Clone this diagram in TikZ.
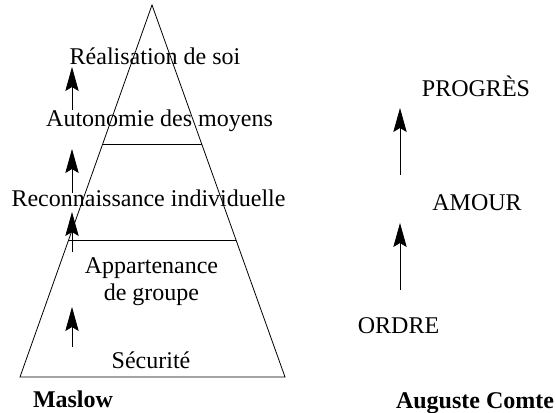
\documentclass[tikz,border=0pt]{standalone}
\usepackage{fontspec}
\setmainfont{Liberation Serif}
\usetikzlibrary{arrows.meta,calc}

\begin{document}
\begin{tikzpicture}
	[ x=0.75pt, y=-0.75pt,
		need/.style={inner sep=0pt,font=\fontsize{18}{20.5}\selectfont,anchor=base},
		thinker/.style={need,font=\fontsize{18}{20.5}\selectfont\bfseries},
		arrowUp/.style={-{Stealth[length=18pt,width=10pt,inset=3pt]},line width=0.6pt}]

	\useasboundingbox (0,0) rectangle (556,413);

	% pyramide de Maslow
	\coordinate (apex) at (152,5);
	\coordinate (baseLeft) at (20,377);
	\coordinate (baseRight) at (285,377);
	\draw[line width=0.6pt] (apex) -- (baseRight) -- (baseLeft) -- cycle;
	\draw[line width=0.6pt] ($(apex)!0.374!(baseLeft)$) -- ($(apex)!0.374!(baseRight)$);
	\draw[line width=0.6pt] ($(apex)!0.632!(baseLeft)$) -- ($(apex)!0.632!(baseRight)$);

	\node[need] (realisation) at (155,65) {Réalisation de soi};
	\node[need] (autonomie) at (159.5,127) {Autonomie des moyens};
	\node[need] (reconnaissance) at (148.5,207) {Reconnaissance individuelle};
	\node[need,anchor=north,align=center] (appartenance) at (151.5,257) {Appartenance\\de groupe};
	\node[need] (securite) at (151,368) {Sécurité};
	\node[thinker] (maslow) at (73,407) {Maslow};

	\coordinate (m1from) at (72,110);
	\coordinate (m1to) at (72,67);
	\coordinate (m2from) at (72,193);
	\coordinate (m2to) at (72,149);
	\coordinate (m3from) at (72,252);
	\coordinate (m3to) at (72,212);
	\coordinate (m4from) at (72,347);
	\coordinate (m4to) at (72,307);
	\draw[arrowUp] (m1from) -- (m1to);
	\draw[arrowUp] (m2from) -- (m2to);
	\draw[arrowUp] (m3from) -- (m3to);
	\draw[arrowUp] (m4from) -- (m4to);

	% loi des trois etats
	\node[need] (progres) at (476,97) {PROGRÈS};
	\node[need] (amour) at (477,210) {AMOUR};
	\node[need] (ordre) at (398.5,333) {ORDRE};
	\node[thinker] (comte) at (475,408) {Auguste Comte};

	\coordinate (c1from) at (400,175);
	\coordinate (c1to) at (400,108);
	\coordinate (c2from) at (400,290);
	\coordinate (c2to) at (400,223);
	\draw[arrowUp] (c1from) -- (c1to);
	\draw[arrowUp] (c2from) -- (c2to);
\end{tikzpicture}
\end{document}
